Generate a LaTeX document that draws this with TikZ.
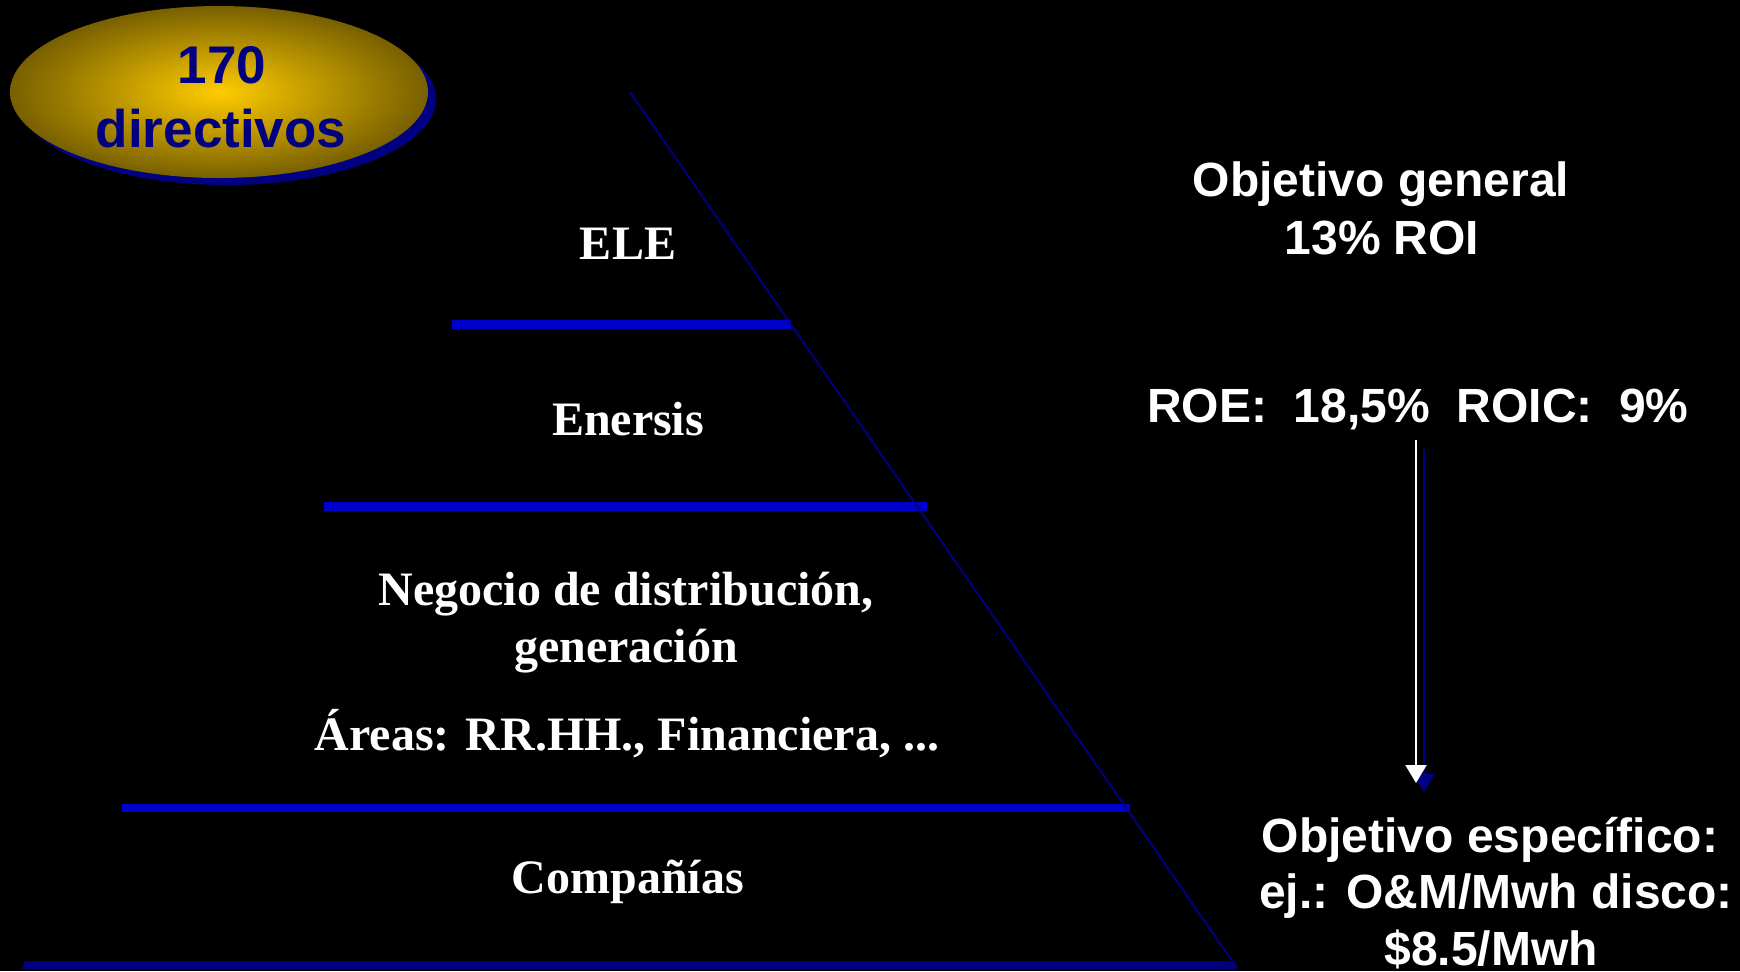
\documentclass[tikz,border=0pt]{standalone}
\usepackage{fontspec}
\setmainfont{Liberation Serif}
\setsansfont{Liberation Sans}
\usetikzlibrary{arrows.meta}
\definecolor{navy}{RGB}{0,0,128}
\definecolor{barblue}{RGB}{0,0,204}
\definecolor{gold}{RGB}{255,204,0}
\definecolor{darkgold}{RGB}{120,96,0}

\begin{document}
\begin{tikzpicture}[x=0.5pt, y=-0.5pt,
    level/.style={text=white, font=\fontsize{24}{28}\selectfont\bfseries, anchor=base},
    goal/.style={text=white, font=\sffamily\fontsize{24}{28}\selectfont\bfseries, anchor=base},
    badge/.style={text=navy, font=\sffamily\fontsize{26.5}{32}\selectfont\bfseries, anchor=base},
    bar/.style={fill=barblue}]
    \fill[black] (0,0) rectangle (1740,971);
    \useasboundingbox (0,0) rectangle (1740,971);

    % badge
    \fill[navy] (227,99) ellipse [x radius=209, y radius=86];
    \shade[inner color=gold, outer color=darkgold] (219,92) ellipse [x radius=209, y radius=86];
    \node[badge] (b1) at (222,83) {170};
    \node[badge] (b2) at (221,147) {directivos};

    % pyramid
    \coordinate (apex) at (630,92);
    \coordinate (base) at (1237,968);
    \fill[bar] (452,320) rectangle (791,329);
    \fill[bar] (324,502) rectangle (927,511);
    \fill[bar] (122,804) rectangle (1130,812);
    \fill[navy] (25,961) -- (1232,961) -- (1237,969) -- (22,969) -- cycle;
    \draw[navy, line width=1pt] (apex) -- (base);

    \node[level] (ele) at (628,259) {ELE};
    \node[level] (enersis) at (628,435) {Enersis};
    \node[level] (neg1) at (626,605) {Negocio de distribución,};
    \node[level] (neg2) at (626,662) {generación};
    \node[level] (areas) at (627,750) {Áreas: RR.HH., Financiera, ...};
    \node[level] (comp) at (628,893) {Compañías};

    % goals
    \node[goal] (gen1) at (1381,196) {Objetivo general};
    \node[goal] (gen2) at (1382,254) {13\% ROI};
    \node[goal] (roe) at (1418,422) {ROE:\ \ 18,5\%\ \ ROIC:\ \ 9\%};
    \node[goal] (esp1) at (1490,852) {Objetivo específico:};
    \node[goal] (esp2) at (1496,908) {ej.: O\&M/Mwh disco:};
    \node[goal] (esp3) at (1491,965) {\$8.5/Mwh};

    \coordinate (from) at (1416,440);
    \coordinate (to) at (1416,783);
    \draw[navy, line width=1pt, -{Triangle[width=10.5pt,length=9pt]}] ([shift={(8,9)}]from) -- ([shift={(8,9)}]to);
    \draw[white, line width=1pt, -{Triangle[width=10.5pt,length=9pt]}] (from) -- (to);
\end{tikzpicture}
\end{document}
